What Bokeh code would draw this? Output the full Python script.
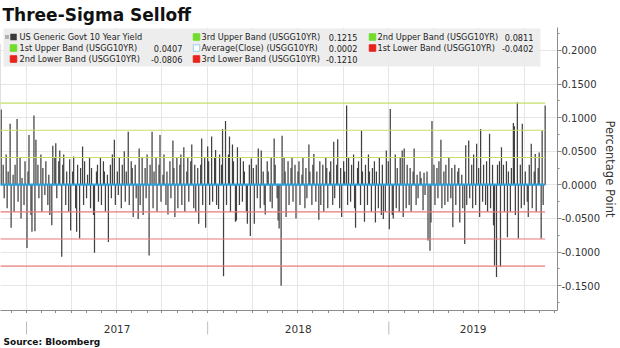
import pandas as pd
from bokeh.plotting import figure
from bokeh.layouts import column
from bokeh.models import Range1d, FixedTicker, NumeralTickFormatter
from bokeh.core.properties import value
from bokeh.embed import file_html
from bokeh.resources import INLINE

# ---------------- data (daily change of US 10Y yield, pct points; one bar per 2 business days) -------------
first_day = "2016-11-09"
yield_changes = [
    0.210, 0.112, 0.030, -0.020, 0.045, -0.035, 0.020, 0.091, -0.064, 0.015, -0.040, 0.030, 0.098, -0.025, 0.040, -0.050, 0.010, -0.030, 0.035, -0.094,
    0.020, 0.074, -0.045, -0.070, 0.103, -0.069, 0.067, 0.030, -0.020, 0.045, -0.040, 0.025, -0.015, 0.035, -0.030, 0.015, -0.045, -0.060, 0.058, 0.040,
    0.062, -0.020, 0.035, 0.051, -0.107, 0.030, 0.045, -0.030, 0.020, -0.040, 0.038, -0.068, 0.020, 0.042, -0.035, -0.070, 0.030, -0.080, 0.025, 0.057,
    -0.030, 0.035, -0.020, 0.015, 0.040, -0.035, 0.025, -0.045, -0.101, 0.020, 0.030, -0.025, 0.040, -0.030, 0.035, 0.020, -0.040, 0.015, -0.085, 0.030,
    -0.020, 0.045, 0.067, -0.030, 0.020, -0.015, 0.040, -0.035, 0.030, 0.050, -0.025, 0.020, 0.079, -0.030, 0.035, 0.025, -0.048, 0.030, -0.020, -0.051,
    0.054, -0.030, 0.040, -0.045, 0.025, -0.020, 0.045, -0.105, 0.030, 0.079, -0.035, 0.020, 0.040, -0.040, 0.030, 0.074, -0.025, 0.015, 0.045, -0.030,
    0.020, -0.044, 0.035, -0.020, 0.066, 0.025, -0.048, 0.040, -0.035, 0.030, 0.045, -0.030, 0.056, -0.040, 0.020, 0.040, -0.025, 0.035, 0.060, -0.035,
    0.030, -0.040, 0.025, -0.058, 0.030, 0.069, -0.030, 0.040, -0.064, 0.057, 0.035, -0.030, 0.072, -0.025, 0.040, 0.052, -0.030, -0.036, 0.045, 0.030,
    0.083, -0.136, 0.095, -0.030, 0.045, 0.072, -0.040, 0.060, 0.035, -0.055, -0.053, 0.056, -0.030, 0.040, -0.025, 0.035, 0.020, -0.040, -0.058, 0.030,
    -0.076, 0.039, 0.025, -0.058, 0.030, -0.020, 0.054, -0.035, 0.051, 0.020, -0.030, -0.044, 0.035, 0.020, -0.025, 0.040, -0.035, 0.069, 0.030, -0.020,
    -0.053, -0.065, -0.150, 0.073, 0.040, 0.020, -0.048, 0.035, -0.030, 0.025, 0.040, -0.025, 0.030, -0.050, 0.020, 0.035, -0.030, 0.015, 0.040, -0.035,
    0.025, -0.020, 0.060, 0.020, -0.030, 0.030, 0.046, -0.025, 0.020, -0.052, 0.035, -0.030, 0.030, -0.040, 0.040, 0.025, -0.035, 0.020, 0.035, -0.030,
    0.064, -0.020, 0.030, 0.068, -0.035, 0.025, -0.048, 0.035, 0.020, 0.118, -0.030, 0.040, -0.025, 0.030, 0.045, -0.035, -0.064, 0.025, 0.035, -0.030,
    0.081, 0.020, -0.055, 0.030, -0.030, 0.045, 0.020, -0.040, 0.025, 0.035, -0.056, 0.020, -0.035, 0.040, -0.045, 0.030, -0.051, -0.040, 0.051, 0.035,
    -0.066, 0.113, -0.045, -0.050, 0.045, -0.035, 0.025, -0.040, 0.041, 0.051, -0.048, 0.054, -0.035, 0.030, -0.030, 0.025, -0.040, 0.020, 0.054, -0.030,
    0.015, -0.020, 0.020, 0.010, -0.038, 0.018, -0.015, 0.020, -0.083, -0.098, -0.056, 0.095, 0.030, -0.030, 0.025, -0.020, 0.035, 0.067, -0.035, 0.020,
    -0.030, 0.030, -0.025, 0.040, -0.020, 0.025, -0.063, 0.030, -0.030, 0.020, 0.025, -0.056, 0.015, -0.035, -0.088, 0.059, -0.030, 0.066, -0.020, 0.030,
    -0.035, 0.045, -0.030, 0.061, 0.025, -0.048, 0.083, -0.025, 0.030, -0.030, 0.035, -0.040, 0.076, -0.035, 0.030, -0.060, -0.120, -0.137, 0.030, 0.035,
    -0.122, 0.056, 0.030, -0.040, 0.035, -0.078, 0.020, -0.040, 0.025, 0.092, 0.087, -0.045, 0.123, -0.080, 0.030, -0.035, 0.091, -0.030, 0.020, -0.025,
    -0.048, 0.030, 0.061, -0.035, 0.020, 0.046, -0.040, 0.025, 0.048, -0.080, 0.081, -0.030, 0.118,
]

band_labels = ["3rd Upper Band (USGG10YR)", "2nd Upper Band (USGG10YR)", "1st Upper Band (USGG10YR)",
               "Average(Close) (USGG10YR)", "1st Lower Band (USGG10YR)", "2nd Lower Band (USGG10YR)",
               "3rd Lower Band (USGG10YR)"]
band_values = [0.1215, 0.0811, 0.0407, 0.0002, -0.0402, -0.0806, -0.1210]
band_kinds = ["upper", "upper", "upper", "avg", "lower", "lower", "lower"]
series_label = "US Generic Govt 10 Year Yield"

y_ticks = [-0.15, -0.10, -0.05, 0.0, 0.05, 0.10, 0.15, 0.20]
y_minor_ticks = [-0.175, -0.125, -0.075, -0.025, 0.025, 0.075, 0.125, 0.175, 0.225]
year_labels = ["2017", "2018", "2019"]

title_text = "Three-Sigma Selloff"
source_text = "Source:  Bloomberg"
y_title = "Percentage Point"

# ---------------- styling / layout ----------------
FW, FH = 557, 283
MS_DAY = 86400000


def ms(ts):
    return pd.Timestamp(ts).value // 10**6


x_start = ms("2016-11-09 14:38")
x_end = ms("2019-12-06 21:40")
y_top, y_bot = 0.2341, -0.1870

dates = pd.bdate_range(first_day, periods=len(yield_changes), freq="2B")
dates_ms = [ms(d) for d in dates]

xr = Range1d(x_start, x_end)
yr = Range1d(y_bot, y_top)


def px2x(px):
    return x_start + px / FW * (x_end - x_start)


def py2y(py):
    return y_top - (py - 27) / FH * (y_top - y_bot)


p = figure(x_range=xr, y_range=yr, x_axis_type="datetime", y_axis_location="right",
           frame_width=FW, frame_height=FH, min_border_left=0, min_border_right=60,
           min_border_top=24, min_border_bottom=2, toolbar_location=None,
           output_backend="svg", background_fill_color="white")
p.outline_line_color = None

p.title.text = title_text
p.title.text_font = "DejaVu Sans"
p.title.text_font_size = "17px"
p.title.text_font_style = "bold"
p.title.text_color = "#111111"
p.title.align = "left"
p.title.offset = 2
p.title.standoff = 5

# grids
quarters = [ms(d) for d in pd.date_range("2016-10-01", "2020-01-01", freq="QS")]
months = [ms(d) for d in pd.date_range("2016-12-01", "2019-12-01", freq="MS")]
p.xgrid.ticker = FixedTicker(ticks=quarters)
p.ygrid.ticker = FixedTicker(ticks=y_ticks)
p.xgrid.grid_line_color = "#e6e6e6"
p.ygrid.grid_line_color = "#e6e6e6"

# y axis (right)
ya = p.yaxis[0]
ya.ticker = FixedTicker(ticks=y_ticks, minor_ticks=y_minor_ticks)
ya.formatter = NumeralTickFormatter(format="0.0000")
ya.axis_line_color = "#8c8c8c"
ya.major_tick_line_color = "#8c8c8c"
ya.minor_tick_line_color = "#8c8c8c"
ya.major_tick_in = 0
ya.major_tick_out = 4
ya.minor_tick_in = 0
ya.minor_tick_out = 2
ya.major_label_standoff = 0
ya.major_label_text_font = "DejaVu Sans"
ya.major_label_text_font_size = "10px"
ya.major_label_text_color = "#333333"
ya.axis_label = y_title
ya.axis_label_text_font = "DejaVu Sans"
ya.axis_label_text_font_size = "11.5px"
ya.axis_label_text_font_style = "normal"
ya.axis_label_text_color = "#333333"
ya.axis_label_standoff = 0

# x axis (monthly ticks, no labels)
xa = p.xaxis[0]
xa.ticker = FixedTicker(ticks=months)
xa.axis_line_color = "#8c8c8c"
xa.major_tick_line_color = "#8c8c8c"
xa.major_tick_in = 0
xa.major_tick_out = 3
xa.minor_tick_line_color = None
xa.major_label_overrides = {m: "" for m in months}
xa.major_label_text_font_size = "1px"
xa.major_label_standoff = 0

# bars
p.vbar(x=dates_ms, top=yield_changes, bottom=0, width=2.5 * MS_DAY,
       fill_color="#404040", line_color=None)

# band lines
band_colors = {"upper": "#c5df66", "avg": "#2e9fd8", "lower": "#e77a7a"}
band_widths = {"upper": 1.1, "avg": 2.2, "lower": 1.1}
for v, k in zip(band_values, band_kinds):
    p.segment(x0=[dates_ms[0]], x1=[dates_ms[-1]], y0=[v], y1=[v],
              line_color=band_colors[k], line_width=band_widths[k])

# legend box
p.quad(left=[px2x(3)], right=[px2x(540)], top=[py2y(28)], bottom=[py2y(66)],
       fill_color="#ebebeb", fill_alpha=0.92, line_color=None)

swatch = {"upper": ("#72dc2c", "#72dc2c"), "avg": ("#ffffff", "#9ccfee"), "lower": ("#e8231e", "#e8231e")}
entries = [(series_label, None, "series")] + list(zip(band_labels, band_values, band_kinds))
col_sw = [13, 196, 372]
col_tx = [19, 201, 377]
col_val = [182, 357, 533]
row_y = [36.5, 47.5, 58.5]
for i, (lab, val, kind) in enumerate(entries):
    r, c = divmod(i, 3)
    yy = py2y(row_y[r])
    if kind == "series":
        p.scatter(x=[px2x(6.5)], y=[yy], marker="square", size=4, fill_color="#b0b0b0", line_color=None)
        p.scatter(x=[px2x(col_sw[c])], y=[yy], marker="square", size=6.5, fill_color="#3a3a3a", line_color=None)
    else:
        fc, lc = swatch[kind]
        p.scatter(x=[px2x(col_sw[c])], y=[yy], marker="square", size=6.5, fill_color=fc, line_color=lc, line_width=1)
    p.text(x=[px2x(col_tx[c])], y=[yy], text=[lab], text_font=value("DejaVu Sans"), text_font_size="8.2px",
           text_baseline="middle", text_align="left", text_color="#222222")
    if val is not None:
        p.text(x=[px2x(col_val[c])], y=[yy], text=[f"{val:.4f}"], text_font=value("DejaVu Sans"),
               text_font_size="8.2px", text_baseline="middle", text_align="right", text_color="#222222")

# ---------------- year band below ----------------
band = figure(x_range=xr, y_range=Range1d(34, 0), frame_width=FW, frame_height=34,
              min_border_left=0, min_border_right=60, min_border_top=0, min_border_bottom=0,
              x_axis_location=None, y_axis_location=None, toolbar_location=None,
              output_backend="svg")
band.grid.visible = False
band.outline_line_color = None
year_starts = [ms(f"{y}-01-01") for y in year_labels]
bounds = year_starts + [x_end]
mids = [(bounds[i] + bounds[i + 1]) / 2 for i in range(len(year_labels))]
band.segment(x0=year_starts, x1=year_starts, y0=[8] * 3, y1=[21] * 3, line_color="#bdbdbd", line_width=1)
band.text(x=mids, y=[15] * 3, text=year_labels, text_font=value("DejaVu Sans"), text_font_size="10.5px",
          text_align="center", text_baseline="middle", text_color="#333333")
band.text(x=[x_start], y=[28], text=[source_text], x_offset=3, text_font=value("DejaVu Sans"),
          text_font_size="9px", text_font_style="bold", text_align="left", text_baseline="middle",
          text_color="#111111")

layout = column(p, band, spacing=0)
open("out.html", "w").write(file_html(layout, INLINE))
